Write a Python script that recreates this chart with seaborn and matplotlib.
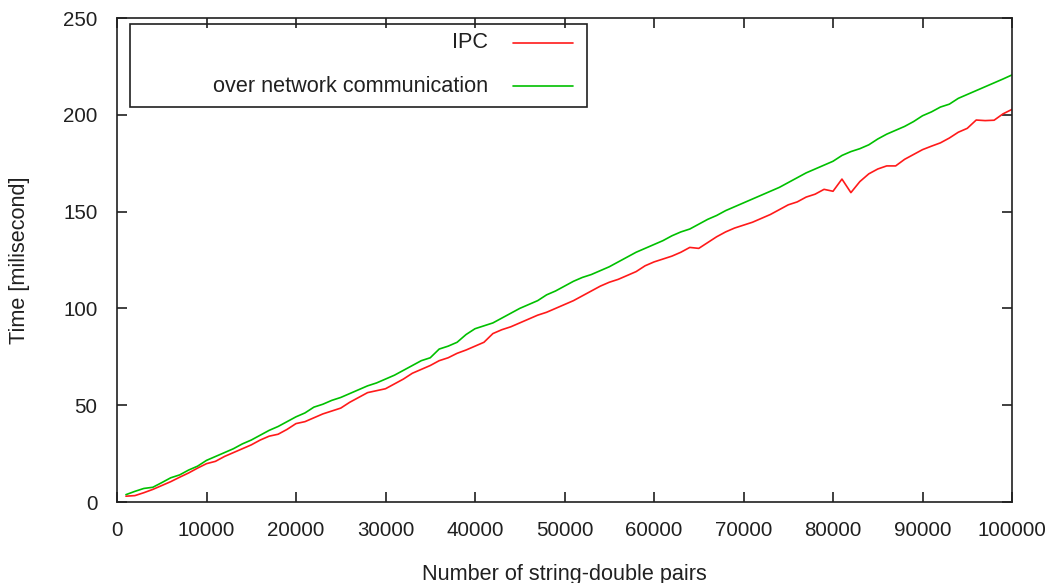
import numpy as np
import pandas as pd
import matplotlib
matplotlib.use("Agg")
import matplotlib.pyplot as plt
from matplotlib.patches import Rectangle
from matplotlib.lines import Line2D
import seaborn as sns

# ---- data ----
pairs = [1000 * i for i in range(1, 101)]

ipc_ms = [
    3.0, 3.3, 4.8, 6.5, 8.5, 10.5, 12.8, 15.0, 17.5, 19.8,
    21.0, 23.5, 25.5, 27.5, 29.5, 32.0, 34.0, 35.0, 37.5, 40.5,
    41.5, 43.5, 45.5, 47.0, 48.5, 51.5, 54.0, 56.5, 57.5, 58.5,
    61.0, 63.5, 66.5, 68.5, 70.5, 73.0, 74.5, 76.8, 78.5, 80.5,
    82.5, 87.0, 89.0, 90.5, 92.5, 94.5, 96.5, 98.0, 100.0, 102.0,
    104.0, 106.5, 109.0, 111.5, 113.5, 115.0, 117.0, 119.0, 122.0, 124.0,
    125.5, 127.0, 129.0, 131.5, 131.0, 134.0, 137.0, 139.5, 141.5, 143.0,
    144.5, 146.5, 148.5, 151.0, 153.5, 155.0, 157.5, 159.0, 161.5, 160.5,
    166.8, 159.8, 165.5, 169.5, 172.0, 173.6, 173.6, 177.0, 179.5, 182.0,
    183.8, 185.5, 188.0, 191.0, 193.0, 197.3, 197.0, 197.2, 200.5, 202.8,
]

network_ms = [
    3.8, 5.5, 7.0, 7.6, 10.0, 12.5, 14.0, 16.5, 18.5, 21.5,
    23.5, 25.5, 27.5, 30.0, 32.0, 34.5, 37.0, 39.0, 41.5, 44.0,
    46.0, 49.0, 50.5, 52.5, 54.0, 56.0, 58.0, 60.0, 61.5, 63.5,
    65.5, 68.0, 70.5, 73.0, 74.5, 79.0, 80.5, 82.5, 86.5, 89.5,
    91.0, 92.5, 95.0, 97.5, 100.0, 102.0, 104.0, 107.0, 109.0, 111.5,
    114.0, 116.0, 117.5, 119.5, 121.5, 124.0, 126.5, 129.0, 131.0, 133.0,
    135.0, 137.5, 139.5, 141.0, 143.5, 146.0, 148.0, 150.5, 152.5, 154.5,
    156.5, 158.5, 160.5, 162.5, 165.0, 167.5, 170.0, 172.0, 174.0, 176.0,
    179.0, 181.0, 182.5, 184.5, 187.5, 190.0, 192.0, 194.0, 196.5, 199.5,
    201.5, 204.0, 205.5, 208.5, 210.5, 212.5, 214.5, 216.5, 218.5, 220.6,
]

series_names = ["IPC", "over network communication"]
series_colors = ["#ff1a1a", "#00c000"]
x_ticks = list(range(0, 100001, 10000))
y_ticks = list(range(0, 251, 50))
x_label = "Number of string-double pairs"
y_label = "Time [milisecond]"

df = pd.concat([
    pd.DataFrame({"pairs": pairs, "time": ipc_ms, "series": series_names[0]}),
    pd.DataFrame({"pairs": pairs, "time": network_ms, "series": series_names[1]}),
])

# ---- style ----
sns.set_theme(style="ticks")
plt.rcParams["font.family"] = ["Liberation Sans", "DejaVu Sans"]
plt.rcParams["axes.linewidth"] = 1.2
plt.rcParams["axes.edgecolor"] = "#202020"

TICK_FS = 14.8
TEXT_FS = 15.6

fig = plt.figure(figsize=(10.51, 5.83), dpi=100)
ax = fig.add_axes([117 / 1051, 81 / 583, 895 / 1051, 484 / 583])

sns.lineplot(data=df, x="pairs", y="time", hue="series",
             palette=dict(zip(series_names, series_colors)),
             linewidth=1.2, legend=False, ax=ax)

ax.set_xlim(0, 100000)
ax.set_ylim(0, 250)
ax.set_xticks(x_ticks)
ax.set_yticks(y_ticks)
ax.set_xticklabels([str(v) for v in x_ticks])
ax.set_yticklabels([str(v) for v in y_ticks])
ax.tick_params(direction="in", length=7, width=1.2, top=True, right=True,
               labelsize=TICK_FS, colors="#202020")
ax.tick_params(axis="x", pad=14)
ax.tick_params(axis="y", pad=14)
for s in ax.spines.values():
    s.set_visible(True)

ax.set_xlabel(x_label, fontsize=TEXT_FS, color="#202020")
ax.set_ylabel(y_label, fontsize=TEXT_FS, color="#202020")
ax.xaxis.set_label_coords(0.5, -0.128)
ax.yaxis.set_label_coords(-0.097, 0.5)

# ---- legend box (gnuplot style, text right-aligned left of sample) ----
def fx(px):
    return (px - 117) / 895

def fy(py):
    return (502 - py) / 484

ax.add_patch(Rectangle((fx(130), fy(107)), fx(587) - fx(130), fy(24) - fy(107),
                       transform=ax.transAxes, fill=False, edgecolor="#202020",
                       linewidth=1.2, zorder=5))
for name, col, py in zip(series_names, series_colors, [43, 86]):
    ax.text(fx(488), fy(py), name, transform=ax.transAxes, ha="right",
            va="center", fontsize=TEXT_FS, color="#202020", zorder=6)
    ax.add_line(Line2D([fx(513), fx(573)], [fy(py), fy(py)], transform=ax.transAxes,
                       color=col, linewidth=1.2, zorder=6))

fig.savefig("out.png", dpi=100)
